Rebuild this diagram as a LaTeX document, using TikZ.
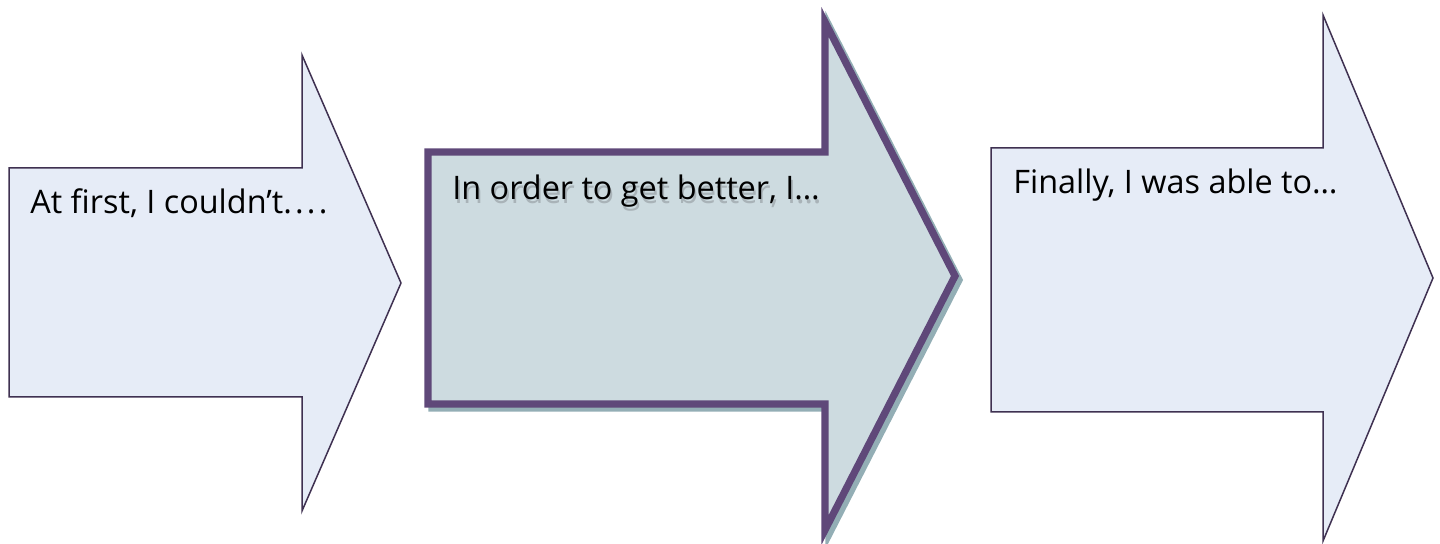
\documentclass[tikz,border=0pt]{standalone}
\usepackage{fontspec}
\setmainfont{Open Sans}
\usetikzlibrary{positioning}

\definecolor{paleblue}{HTML}{E6ECF7}
\definecolor{steelfill}{HTML}{CDDBE0}
\definecolor{plumline}{HTML}{3F3151}
\definecolor{plumthick}{HTML}{5F4879}
\definecolor{tealshadow}{HTML}{93AEB5}
\definecolor{textshade}{HTML}{A9B3B8}

\newcommand{\shadowtext}[1]{\makebox[0pt][l]{\hspace{0.8pt}\raisebox{-1.8pt}{\color{textshade}#1}}#1}

\begin{document}
\begin{tikzpicture}[
    x=0.5pt, y=-0.5pt,
    plainarrow/.style={draw=plumline, line width=0.75pt, fill=paleblue, line join=miter},
    boldarrow/.style={draw=plumthick, line width=3.6pt, fill=steelfill, line join=miter},
    shadearrow/.style={draw=tealshadow, line width=3.6pt, fill=tealshadow, line join=miter},
    label/.style={anchor=base west, inner sep=0pt, font=\fontsize{16.2pt}{19pt}\selectfont}
  ]
    \useasboundingbox (0,0) rectangle (1440,544);

    % first arrow
    \draw[plainarrow] (9,168) -- (302,168) -- (302,55) -- (401,283)
      -- (302,511) -- (302,397) -- (9,397) -- cycle;

    % middle arrow with its shadow
    \draw[shadearrow, shift={(4,4)}] (428,152) -- (825,152) -- (825,22) -- (955,276)
      -- (825,530) -- (825,404) -- (428,404) -- cycle;
    \draw[boldarrow] (428,152) -- (825,152) -- (825,22) -- (955,276)
      -- (825,530) -- (825,404) -- (428,404) -- cycle;

    % last arrow
    \draw[plainarrow] (991,148) -- (1323,148) -- (1323,15) -- (1433,278)
      -- (1323,541) -- (1323,412) -- (991,412) -- cycle;

    \node[label] (before) at (30,214) {At first, I couldn’t.\kern1.6pt.\kern1.6pt.\kern1.6pt.};
    \node[label] (during) at (452,200) {\shadowtext{In order to get better, I…}};
    \node[label] (after) at (1013,194) {Finally, I was able to…};
\end{tikzpicture}
\end{document}
